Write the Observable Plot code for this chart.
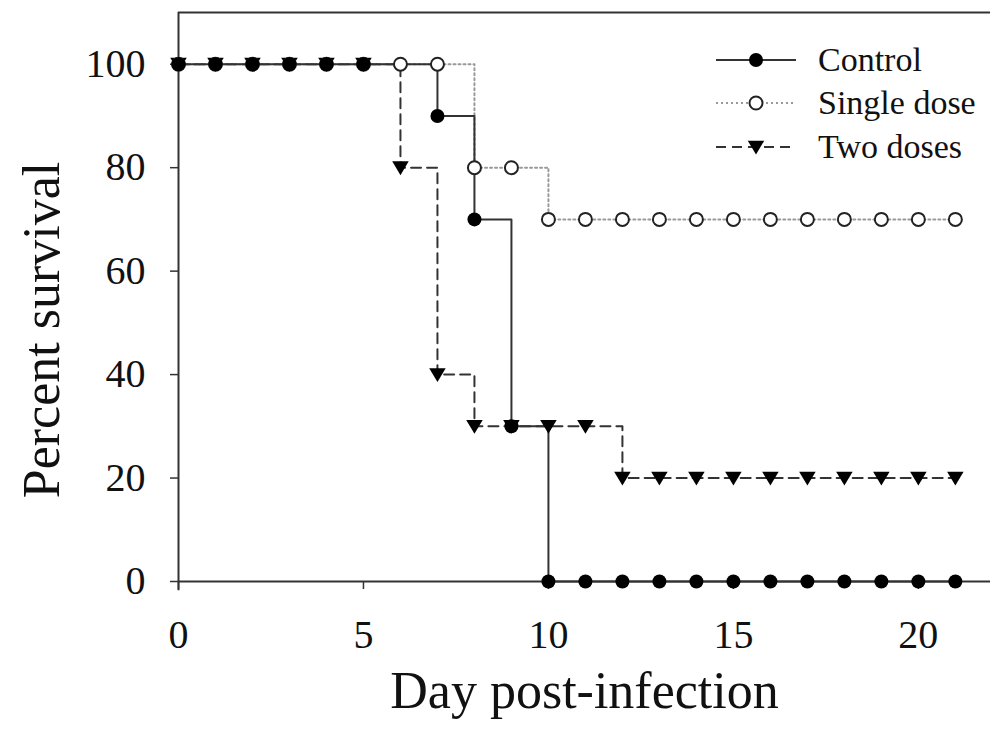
<!DOCTYPE html>
<html>
<head>
<meta charset="utf-8">
<script src="https://cdn.jsdelivr.net/npm/d3@7"></script>
<script src="https://cdn.jsdelivr.net/npm/@observablehq/plot@0.6"></script>
<style>
  html, body { margin: 0; padding: 0; background: #fff; }
  svg { display: block; }
</style>
</head>
<body>
<div id="chart"></div>
<script>
// ---- data ----
const seriesNames = ["Control", "Single dose", "Two doses"];
const controlDays = [0, 1, 2, 3, 4, 5, 7, 8, 9, 10, 11, 12, 13, 14, 15, 16, 17, 18, 19, 20, 21];
const controlSurvival = [100, 100, 100, 100, 100, 100, 90, 70, 30, 0, 0, 0, 0, 0, 0, 0, 0, 0, 0, 0, 0];
const singleDays = [0, 1, 2, 3, 4, 5, 6, 7, 8, 9, 10, 11, 12, 13, 14, 15, 16, 17, 18, 19, 20, 21];
const singleSurvival = [100, 100, 100, 100, 100, 100, 100, 100, 80, 80, 70, 70, 70, 70, 70, 70, 70, 70, 70, 70, 70, 70];
const twoDays = [0, 1, 2, 3, 4, 5, 6, 7, 8, 9, 10, 11, 12, 13, 14, 15, 16, 17, 18, 19, 20, 21];
const twoSurvival = [100, 100, 100, 100, 100, 100, 80, 40, 30, 30, 30, 30, 20, 20, 20, 20, 20, 20, 20, 20, 20, 20];
const xTicks = [0, 5, 10, 15, 20];
const yTicks = [0, 20, 40, 60, 80, 100];
const xLabel = "Day post-infection";
const yLabel = "Percent survival";

const toRows = (days, vals) => days.map((d, i) => ({day: d, pct: vals[i]}));
const control = toRows(controlDays, controlSurvival);
const single = toRows(singleDays, singleSurvival);
const two = toRows(twoDays, twoSurvival);

// downward triangle symbol
const triangleDown = {
  draw(context, size) {
    const r = Math.sqrt(size / Math.PI);
    const h = r * 1.0;
    const w = r * 1.1;
    context.moveTo(-w, -h * 0.85);
    context.lineTo(w, -h * 0.85);
    context.lineTo(0, h);
    context.closePath();
  }
};

const FONT = "'Liberation Serif', 'Times New Roman', serif";
const ink = "#111";

const chart = Plot.plot({
  width: 990,
  height: 740,
  marginLeft: 178,
  marginRight: 0,
  marginTop: 12,
  marginBottom: 159,
  style: {fontFamily: FONT, background: "#fff", color: ink},
  x: {domain: [0, 21.95]},
  y: {domain: [0, 110]},
  marks: [
    Plot.ruleY([110], {stroke: "#333", strokeWidth: 2}),
    Plot.axisX({ticks: xTicks, tickSize: 8, tickPadding: 30, fontSize: 40, label: null, stroke: "#333", strokeWidth: 1.5, fill: ink}),
    Plot.axisY({ticks: yTicks, tickSize: 8, tickPadding: 25, fontSize: 40, label: null, stroke: "#333", strokeWidth: 1.5, fill: ink}),
    Plot.ruleX([0], {y1: -1.8, y2: 110, stroke: "#333", strokeWidth: 2}),
    Plot.ruleY([0], {stroke: "#333", strokeWidth: 2}),
    // Two doses
    Plot.line(two, {x: "day", y: "pct", curve: "step-after", stroke: "#333", strokeWidth: 2, strokeDasharray: "10,6"}),
    // Single dose
    Plot.line(single, {x: "day", y: "pct", curve: "step-after", stroke: "#999", strokeWidth: 2, strokeDasharray: "2,3"}),
    // Control
    Plot.line(control, {x: "day", y: "pct", curve: "step-after", stroke: "#333", strokeWidth: 2}),
    Plot.dot(two, {x: "day", y: "pct", r: 7.5, symbol: triangleDown, fill: "#000", stroke: "none"}),
    Plot.dot(single, {x: "day", y: "pct", r: 6.5, fill: "#fff", stroke: "#222", strokeWidth: 2}),
    Plot.dot(control, {x: "day", y: "pct", r: 7, fill: "#000", stroke: "none"}),
    Plot.text([xLabel], {frameAnchor: "bottom", dy: 110, fontSize: 52, lineAnchor: "middle", textAnchor: "middle", fill: ink}),
    Plot.text([yLabel], {frameAnchor: "left", dx: -136, dy: 33, rotate: -90, fontSize: 52, lineAnchor: "middle", textAnchor: "middle", fill: ink})
  ]
});

// legend
const svg = d3.select(chart);
const legendItems = [
  {name: seriesNames[0], y: 60, stroke: "#333", dash: null, kind: "filled"},
  {name: seriesNames[1], y: 103, stroke: "#999", dash: "2,3", kind: "open"},
  {name: seriesNames[2], y: 147, stroke: "#333", dash: "10,6", kind: "tri"}
];
const lg = svg.append("g").attr("font-family", FONT).attr("text-anchor", "start");
for (const it of legendItems) {
  const g = lg.append("g").attr("transform", `translate(0,${it.y})`);
  g.append("line").attr("x1", 716).attr("x2", 796).attr("y1", 0).attr("y2", 0)
    .attr("stroke", it.stroke).attr("stroke-width", 2)
    .attr("stroke-dasharray", it.dash);
  if (it.kind === "filled") {
    g.append("circle").attr("cx", 756).attr("cy", 0).attr("r", 7).attr("fill", "#000");
  } else if (it.kind === "open") {
    g.append("circle").attr("cx", 756).attr("cy", 0).attr("r", 6.5).attr("fill", "#fff").attr("stroke", "#222").attr("stroke-width", 2);
  } else {
    g.append("path").attr("transform", "translate(756,0)")
      .attr("d", d3.symbol(triangleDown, 7.5 * 7.5 * Math.PI)()).attr("fill", "#000");
  }
  g.append("text").attr("x", 818).attr("y", 0).attr("dy", "0.32em")
    .attr("text-anchor", "start")
    .attr("font-size", 34).attr("fill", ink).text(it.name);
}

document.getElementById("chart").appendChild(chart);
</script>
</body>
</html>
